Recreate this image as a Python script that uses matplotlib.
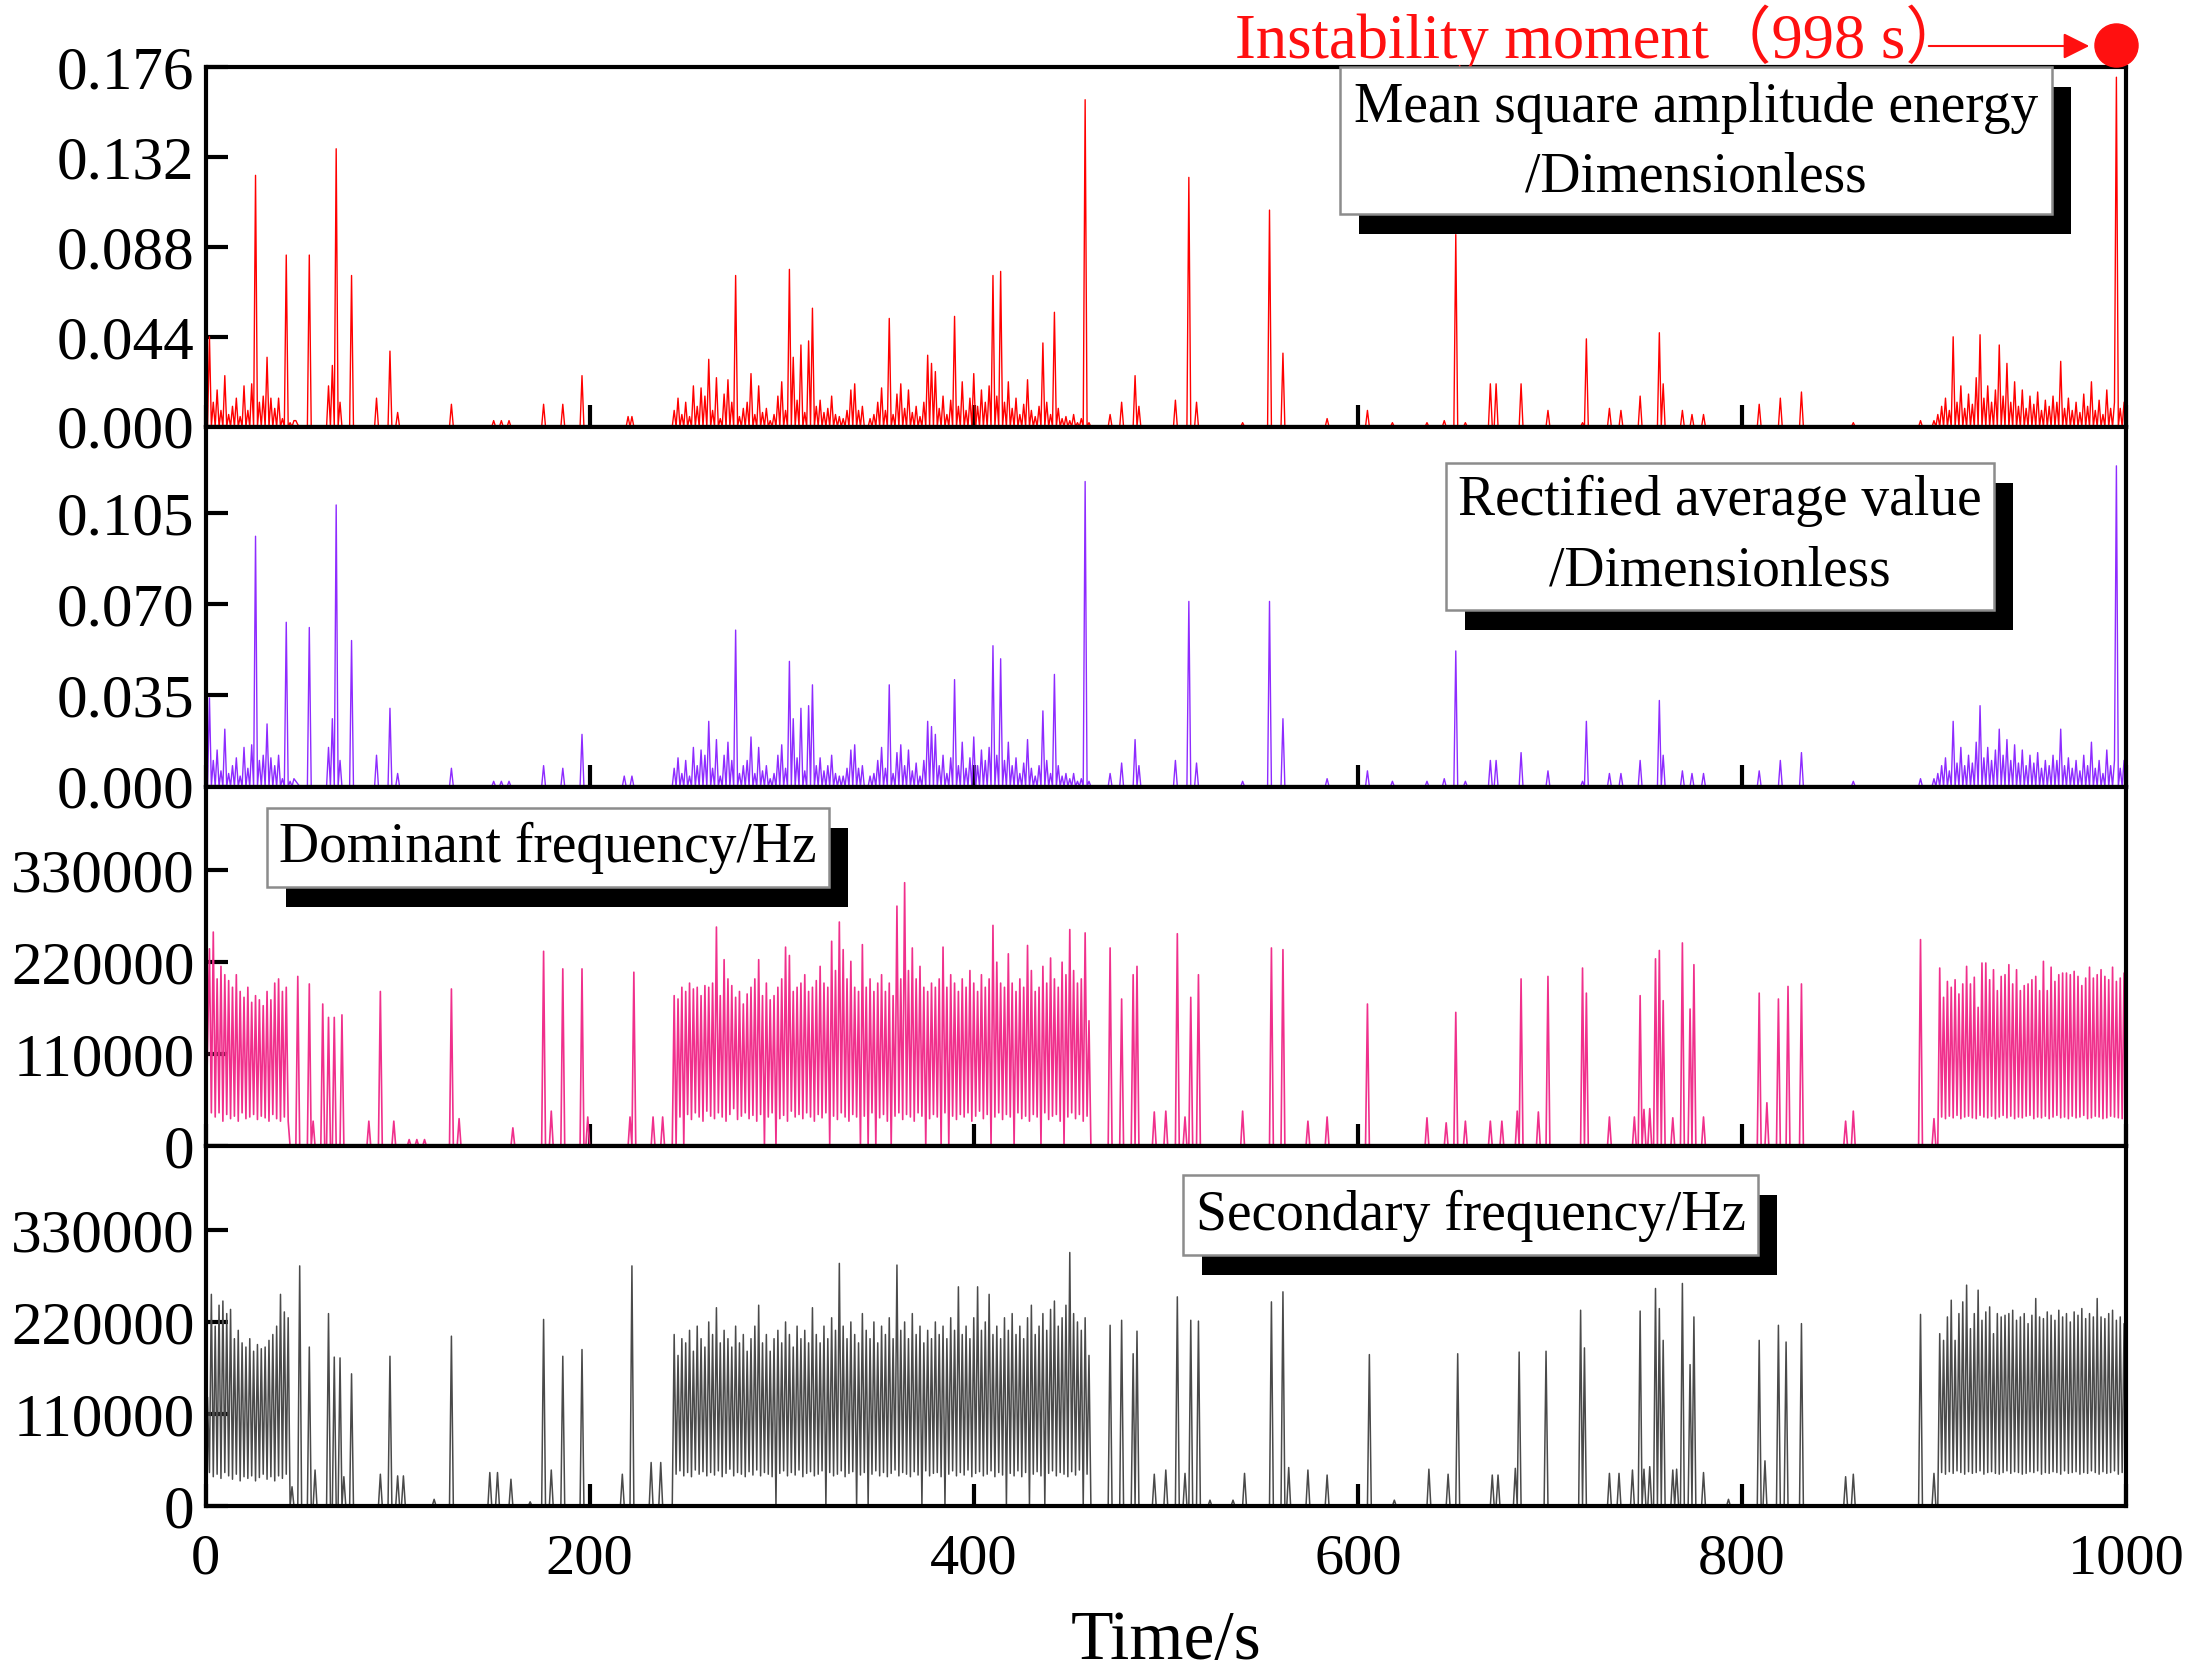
import numpy as np
import matplotlib
matplotlib.use("Agg")
import matplotlib.pyplot as plt
from matplotlib.patches import Rectangle, FancyArrowPatch
from matplotlib.transforms import blended_transform_factory
from matplotlib.ticker import FixedLocator, FormatStrFormatter

plt.rcParams['font.family'] = ['Liberation Serif', 'Noto Sans CJK SC', 'DejaVu Sans']

# ---------------- data ----------------
# amplitude series in units of 1e-3, frequencies in kHz (x1000 Hz)
# dense parts: (start second, step, values); sparse parts: (second, value)

# Mean square amplitude energy
msa_dense_a = [44, 12, 18, 8, 25, 6, 10, 14, 5, 20, 8, 21, 123, 12, 15, 34, 14, 9, 14, 4,
               84, 2, 3, 1, 0, 0, 84, 0, 0, 0, 0, 20, 30, 136, 12, 0, 0, 74, 0, 0]
msa_dense_b = [8, 14, 6, 12, 5, 20, 10, 19, 15, 33, 8, 24, 4, 16, 23, 12, 74, 5, 9, 12,
               26, 6, 20, 7, 9, 3, 6, 15, 22, 8, 77, 34, 13, 40, 7, 42, 58, 10, 13, 7,
               9, 15, 6, 5, 4, 8, 18, 21, 8, 10, 0, 4, 6, 12, 19, 8, 53, 6, 16, 21,
               9, 18, 7, 10, 5, 12, 35, 31, 27, 9, 15, 6, 13, 54, 10, 22, 8, 14, 26, 10,
               18, 12, 20, 74, 15, 76, 12, 22, 9, 14, 6, 11, 23, 8, 5, 10, 41, 12, 6, 56,
               9, 4, 5, 3, 6, 2, 4, 160, 2]
msa_dense_c = [3, 6, 10, 14, 8, 44, 12, 20, 9, 16, 11, 24, 45, 14, 20, 12, 18, 40, 15, 31,
               12, 22, 10, 18, 9, 15, 11, 17, 8, 13, 10, 15, 12, 32, 9, 14, 8, 12, 7, 16,
               10, 22, 8, 13, 6, 18, 9, 12]
msa_sparse = [(47, 3), (89, 14), (96, 37), (100, 7), (128, 11), (150, 3), (154, 3), (158, 3),
              (176, 11), (186, 11), (196, 25), (220, 5), (222, 5),
              (471, 6), (477, 12), (484, 25), (486, 10), (505, 13), (512, 122), (516, 12),
              (540, 2), (554, 106), (561, 36), (584, 4), (605, 8), (618, 2), (636, 2),
              (645, 3), (651, 94), (656, 2), (669, 21), (672, 21), (685, 21), (699, 8),
              (717, 2), (719, 43), (731, 9), (737, 8), (747, 15), (757, 46), (759, 21),
              (769, 8), (774, 6), (780, 6), (809, 11), (820, 14), (831, 17), (858, 2),
              (893, 3), (995, 171), (997, 9), (999, 12), (1000, 12)]

# Rectified average value
rav_dense_a = [34, 10, 14, 6, 22, 5, 8, 11, 4, 15, 7, 16, 96, 10, 12, 24, 11, 8, 12, 3,
               63, 2, 3, 1, 0, 0, 61, 0, 0, 0, 0, 15, 26, 108, 10, 0, 0, 56, 0, 0]
rav_dense_b = [7, 11, 5, 10, 4, 15, 8, 14, 12, 25, 7, 18, 4, 12, 17, 10, 60, 5, 8, 10,
               19, 5, 15, 6, 8, 3, 5, 12, 16, 7, 48, 26, 11, 30, 6, 31, 39, 8, 11, 6,
               8, 12, 5, 4, 4, 7, 14, 16, 7, 8, 0, 4, 5, 10, 15, 7, 39, 5, 13, 16,
               8, 14, 6, 9, 4, 10, 25, 23, 20, 8, 12, 5, 11, 41, 8, 17, 7, 11, 19, 8,
               14, 10, 15, 54, 12, 49, 10, 17, 8, 11, 5, 9, 18, 7, 4, 8, 29, 10, 5, 43,
               8, 4, 5, 3, 5, 2, 3, 117, 2]
rav_dense_c = [3, 5, 8, 11, 6, 25, 9, 15, 8, 12, 9, 17, 31, 11, 15, 10, 14, 22, 12, 18,
               10, 16, 9, 14, 8, 12, 9, 13, 7, 10, 8, 12, 10, 22, 8, 11, 7, 10, 6, 12,
               8, 17, 7, 10, 5, 14, 8, 10]
rav_sparse = [(47, 2), (89, 12), (96, 30), (100, 5), (128, 7), (150, 2), (154, 2), (158, 2),
              (176, 8), (186, 7), (196, 20), (218, 4), (222, 4),
              (471, 5), (477, 9), (484, 18), (486, 8), (505, 10), (512, 71), (516, 9),
              (540, 2), (554, 71), (561, 26), (584, 3), (605, 6), (618, 2), (636, 2),
              (645, 3), (651, 52), (656, 2), (669, 10), (672, 10), (685, 13), (699, 6),
              (717, 2), (719, 25), (731, 5), (737, 5), (747, 10), (757, 33), (759, 12),
              (769, 6), (774, 5), (780, 5), (809, 6), (820, 10), (831, 13), (858, 2),
              (893, 3), (995, 123), (997, 7), (999, 10), (1000, 10)]

# Dominant frequency (kHz)
dom_dense_a = [120, 236, 40, 256, 35, 200, 40, 215, 30, 205, 38, 198, 33, 190, 36, 205, 30, 185,
               40, 178, 33, 190, 35, 172, 38, 180, 32, 175, 36, 168, 34, 185, 30, 175, 38, 195,
               33, 200, 30, 185, 35, 190, 30]
dom_high_b = [176, 190, 185, 195, 188, 190, 180, 192, 190, 195, 262, 180, 223, 200, 192, 178,
              185, 170, 182, 190, 200, 223, 180, 195, 175, 180, 190, 200, 238, 228, 185, 190,
              195, 205, 185, 190, 198, 215, 195, 190, 245, 210, 268, 235, 200, 221, 190, 185,
              241, 190, 200, 185, 195, 205, 185, 195, 180, 287, 200, 315, 210, 237, 200, 215,
              190, 185, 195, 190, 200, 238, 190, 205, 195, 185, 200, 190, 210, 195, 185, 205,
              190, 200, 264, 220, 195, 190, 230, 195, 185, 200, 190, 240, 210, 185, 190, 215,
              195, 225, 200, 190, 220, 205, 259, 210, 195, 200, 255, 150]
dom_low_b = [35, 0, 38, 32, 40, 35, 30, 42, 36, 33, 40, 35, 30, 38, 45, 32, 36, 40, 33, 37,
             30, 38, 0, 35, 40, 0, 33, 37, 30, 42, 35, 38, 33, 40, 35, 30, 38, 34, 40, 0,
             36, 32, 40, 35, 30, 38, 35, 0, 36, 0, 40, 0, 34, 38, 30, 0, 36, 40, 32, 38,
             35, 30, 40, 36, 0, 33, 38, 35, 0, 40, 0, 36, 32, 38, 35, 40, 30, 36, 42, 33,
             38, 0, 35, 40, 32, 38, 35, 0, 40, 33, 36, 30, 38, 35, 0, 40, 32, 36, 38, 30,
             0, 35, 40, 33, 38, 30, 36, 0]
dom_high_c = [213, 178, 197, 190, 199, 182, 194, 215, 194, 202, 166, 219, 219, 199, 211, 186,
              203, 205, 217, 194, 211, 186, 192, 194, 199, 203, 186, 221, 186, 214, 197, 205,
              207, 207, 205, 209, 203, 192, 201, 214, 201, 205, 211, 203, 199, 214, 197, 201, 207]
dom_low_c = [35, 33, 36, 34, 37, 33, 35, 36, 34, 33, 37, 35, 34, 36, 33, 35, 37, 34, 36, 33,
             35, 34, 36, 37, 33, 35, 34, 36, 33, 35, 37, 34, 35, 33, 36, 34, 35, 37, 33, 34,
             36, 35, 33, 34, 36, 35, 34, 33, 120]
dom_sparse = [(48, 203), (54, 194), (56, 30), (61, 170), (64, 154), (67, 154), (71, 157),
              (85, 30), (91, 185), (98, 30), (106, 8), (110, 8), (114, 8), (128, 188),
              (132, 33), (160, 22), (176, 233), (180, 42), (186, 212), (196, 212), (199, 35),
              (221, 35), (223, 208), (233, 35), (238, 35), (244, 180),
              (471, 237), (477, 176), (483, 205), (485, 215), (494, 41), (500, 42), (506, 254),
              (510, 35), (513, 178), (517, 205), (540, 42), (555, 237), (561, 235), (574, 30),
              (584, 35), (605, 170), (636, 34), (646, 28), (651, 160), (656, 30), (669, 30),
              (675, 30), (683, 42), (685, 200), (694, 41), (699, 203), (717, 213), (719, 183),
              (731, 35), (744, 35), (747, 180), (749, 44), (752, 45), (755, 224), (757, 234),
              (759, 174), (764, 34), (769, 243), (773, 164), (775, 217), (780, 35), (809, 183),
              (813, 52), (819, 176), (824, 191), (831, 194), (854, 30), (858, 42), (893, 247),
              (900, 33)]

# Secondary frequency (kHz)
sec_dense_a = [130, 40, 253, 35, 215, 38, 240, 33, 245, 40, 230, 36, 235, 32, 200, 38, 210, 30,
               195, 35, 190, 33, 200, 36, 185, 30, 193, 34, 188, 38, 190, 32, 198, 35, 205, 30,
               215, 36, 253, 33, 232, 38, 225]
sec_high_b = [205, 180, 200, 195, 210, 185, 215, 200, 190, 220, 205, 237, 195, 210, 200, 190,
              215, 195, 205, 185, 200, 215, 240, 195, 205, 185, 200, 210, 195, 220, 205, 190,
              215, 200, 210, 195, 237, 205, 195, 215, 200, 225, 210, 290, 215, 200, 220, 205,
              195, 230, 210, 200, 220, 195, 215, 205, 225, 200, 288, 210, 220, 200, 230, 205,
              215, 195, 210, 200, 220, 205, 215, 200, 225, 210, 262, 205, 215, 200, 225, 262,
              210, 220, 253, 205, 215, 200, 225, 210, 230, 205, 215, 200, 225, 240, 205, 215,
              230, 210, 235, 245, 215, 225, 240, 303, 230, 220, 210, 225, 180]
sec_low_b = [38, 42, 36, 40, 35, 43, 38, 41, 36, 40, 37, 42, 35, 39, 44, 36, 40, 38, 35, 41,
             37, 43, 36, 40, 38, 35, 0, 39, 42, 36, 40, 37, 43, 35, 39, 41, 36, 38, 42, 0,
             40, 36, 38, 42, 35, 39, 41, 0, 37, 40, 0, 38, 42, 36, 40, 35, 39, 43, 36, 40,
             38, 35, 41, 37, 0, 42, 36, 39, 40, 35, 0, 38, 42, 36, 40, 37, 43, 35, 39, 41,
             36, 38, 42, 35, 40, 37, 0, 39, 36, 42, 35, 40, 0, 38, 41, 36, 0, 39, 42, 36,
             40, 38, 35, 41, 37, 43, 0, 38, 0]
sec_high_c = [206, 198, 226, 246, 198, 230, 244, 264, 212, 230, 258, 222, 232, 238, 206, 230,
              226, 228, 230, 234, 222, 226, 230, 218, 228, 248, 226, 224, 232, 228, 222, 234,
              226, 230, 220, 232, 228, 236, 224, 230, 226, 248, 226, 224, 230, 234, 222, 226, 218]
sec_low_c = [40, 38, 41, 39, 42, 40, 38, 41, 39, 40, 42, 38, 40, 41, 39, 38, 40, 42, 39, 41,
             40, 38, 39, 41, 40, 42, 38, 40, 39, 41, 40, 38, 42, 39, 40, 41, 38, 40, 39, 42,
             40, 38, 41, 39, 40, 42, 38, 40, 110]
sec_sparse = [(45, 23), (49, 287), (54, 190), (57, 43), (64, 230), (67, 178), (70, 177), (72, 35),
              (76, 158), (91, 38), (96, 179), (100, 36), (103, 36), (119, 8), (128, 203),
              (148, 40), (152, 40), (159, 32), (169, 5), (176, 223), (180, 43), (186, 179),
              (196, 187), (217, 38), (222, 287), (232, 52), (237, 52),
              (471, 216), (477, 222), (483, 182), (485, 209), (494, 38), (500, 43), (506, 250),
              (510, 39), (513, 222), (517, 221), (523, 7), (535, 7), (541, 39), (555, 244),
              (561, 256), (564, 46), (574, 43), (584, 37), (606, 181), (619, 7), (637, 44),
              (647, 38), (652, 182), (670, 37), (673, 37), (682, 45), (684, 184), (698, 185),
              (716, 234), (718, 189), (731, 39), (736, 39), (743, 43), (747, 233), (749, 44),
              (752, 47), (755, 260), (757, 236), (759, 198), (764, 43), (766, 44), (769, 266),
              (773, 169), (775, 226), (780, 40), (793, 8), (809, 198), (812, 54), (819, 216),
              (823, 196), (831, 218), (854, 35), (858, 38), (893, 229), (900, 39)]

msa_ticks = [0.0, 0.044, 0.088, 0.132, 0.176]
rav_ticks = [0.0, 0.035, 0.070, 0.105]
freq_ticks = [0, 110000, 220000, 330000]
time_ticks = [0, 200, 400, 600, 800, 1000]
instability_time = 995

TIME = np.arange(0, 1001)


def build(segments, sparse):
    y = np.zeros(TIME.size)
    for start, step, vals in segments:
        for i, v in enumerate(vals):
            t = start + step * i
            if 0 <= t <= 1000:
                y[t] = v
    for t, v in sparse:
        y[t] = v
    return y


msa = build([(2, 2, msa_dense_a), (244, 2, msa_dense_b), (900, 2, msa_dense_c)], msa_sparse) * 1e-3
rav = build([(2, 2, rav_dense_a), (244, 2, rav_dense_b), (900, 2, rav_dense_c)], rav_sparse) * 1e-3
dom = build([(1, 1, dom_dense_a), (246, 2, dom_high_b), (247, 2, dom_low_b),
             (903, 2, dom_high_c), (904, 2, dom_low_c)], dom_sparse) * 1e3
sec = build([(1, 1, sec_dense_a), (244, 2, sec_high_b), (245, 2, sec_low_b),
             (903, 2, sec_high_c), (904, 2, sec_low_c)], sec_sparse) * 1e3

# ---------------- figure ----------------
W, H = 2193, 1673
fig = plt.figure(figsize=(W / 100, H / 100), dpi=100)
axes = fig.subplots(4, 1, sharex=True, gridspec_kw=dict(hspace=0))
fig.subplots_adjust(left=205.6 / W, right=2126 / W, top=1 - 67 / H, bottom=1 - 1506 / H)

series = [msa, rav, dom, sec]
colors = ['#FF0000', '#8E2BFF', '#F0308C', '#4a4a4a']
widths = [1.0, 1.0, 1.2, 1.1]
ylims = [(0, 0.176), (0, 0.138), (0, 430000), (0, 430000)]
ticks = [msa_ticks, rav_ticks, freq_ticks, freq_ticks]
fmts = ['%.3f', '%.3f', '%d', '%d']

for ax, y, c, lw, yl, tk, fm in zip(axes, series, colors, widths, ylims, ticks, fmts):
    ax.plot(TIME, y, color=c, lw=lw)
    ax.set_xlim(0, 1000)
    ax.set_ylim(*yl)
    ax.yaxis.set_major_locator(FixedLocator(tk))
    ax.yaxis.set_major_formatter(FormatStrFormatter(fm))
    ax.xaxis.set_major_locator(FixedLocator(time_ticks))
    ax.tick_params(axis='both', direction='in', length=16, width=3,
                   top=False, right=False)
    ax.tick_params(axis='y', pad=8, labelsize=44)
    ax.tick_params(axis='x', pad=20, labelsize=42)
    for sp in ax.spines.values():
        sp.set_linewidth(3)
        sp.set_zorder(5)

axes[-1].set_xlabel('Time/s', fontsize=50, labelpad=18)


# label boxes with black drop shadows (pixel geometry of the layout)
def label_box(x0, y0, x1, y1, lines, centers_y, fs=40):
    sx, sy = 19, 20
    fig.add_artist(Rectangle(((x0 + sx) / W, 1 - (y1 + sy) / H), (x1 - x0) / W, (y1 - y0) / H,
                             transform=fig.transFigure, facecolor='black', edgecolor='black',
                             lw=0, zorder=10))
    fig.add_artist(Rectangle((x0 / W, 1 - y1 / H), (x1 - x0) / W, (y1 - y0) / H,
                             transform=fig.transFigure, facecolor='white', edgecolor='#8c8c8c',
                             lw=1.8, zorder=11))
    xc = (x0 + x1) / 2
    for txt, yc in zip(lines, centers_y):
        fig.text(xc / W, 1 - yc / H, txt, ha='center', va='center', fontsize=fs,
                 color='black', zorder=12)


label_box(1340, 67, 2052, 214, ['Mean square amplitude energy', '/Dimensionless'], [108, 178])
label_box(1446, 463, 1994, 610, ['Rectified average value', '/Dimensionless'], [501, 571])
label_box(267, 808, 829, 887, ['Dominant frequency/Hz'], [848])
label_box(1183, 1175, 1758, 1255, ['Secondary frequency/Hz'], [1216])

# instability annotation
fig.text(1235 / W, 1 - 38 / H, 'Instability moment（998 s）', color='#FF1010', fontsize=45,
         ha='left', va='center')
fig.add_artist(FancyArrowPatch((1926 / W, 1 - 46 / H), (2092 / W, 1 - 46 / H),
                               transform=fig.transFigure, arrowstyle='-|>', mutation_scale=40,
                               color='#FF1010', lw=1.5, zorder=12))
ax0 = axes[0]
trans = blended_transform_factory(ax0.transData, fig.transFigure)
ax0.plot([instability_time], [1 - 45 / H], 'o', color='#FF1010', markersize=31,
         transform=trans, clip_on=False, zorder=13)

fig.savefig('out.png', dpi=100)
